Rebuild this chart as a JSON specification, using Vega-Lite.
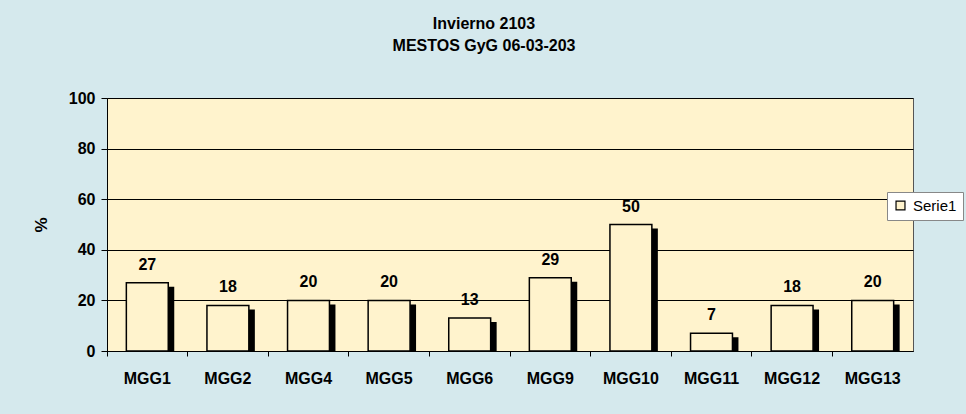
{
  "$schema": "https://vega.github.io/schema/vega-lite/v6.json",
  "width": 806,
  "height": 253,
  "autosize": {"type": "none"},
  "padding": {"left": 107, "top": 98, "right": 53, "bottom": 63},
  "background": "#D5E9ED",
  "config": {
    "font": "Liberation Sans",
    "view": {"fill": "#FFF3CD", "stroke": "#555555", "strokeWidth": 1}
  },
  "title": {
    "text": ["Invierno 2103", "MESTOS GyG 06-03-203"],
    "fontSize": 16,
    "fontWeight": "bold",
    "color": "#000000",
    "lineHeight": 22,
    "anchor": "middle",
    "frame": "group",
    "dx": -26,
    "offset": 36
  },
  "data": {
    "values": [
      {"cat": "MGG1", "v": 27, "serie": "Serie1"},
      {"cat": "MGG2", "v": 18, "serie": "Serie1"},
      {"cat": "MGG4", "v": 20, "serie": "Serie1"},
      {"cat": "MGG5", "v": 20, "serie": "Serie1"},
      {"cat": "MGG6", "v": 13, "serie": "Serie1"},
      {"cat": "MGG9", "v": 29, "serie": "Serie1"},
      {"cat": "MGG10", "v": 50, "serie": "Serie1"},
      {"cat": "MGG11", "v": 7, "serie": "Serie1"},
      {"cat": "MGG12", "v": 18, "serie": "Serie1"},
      {"cat": "MGG13", "v": 20, "serie": "Serie1"}
    ]
  },
  "encoding": {
    "x": {
      "field": "cat", "type": "nominal", "sort": null,
      "scale": {"paddingInner": 0.48, "paddingOuter": 0.24},
      "axis": {
        "title": null, "labelAngle": 0, "labelFontSize": 16, "labelFontWeight": "bold",
        "labelColor": "#000000", "labelPadding": 14, "domainColor": "#000000",
        "tickColor": "#000000", "tickSize": 5, "bandPosition": -0.4615
      }
    },
    "y": {
      "field": "v", "type": "quantitative",
      "scale": {"domain": [0, 100], "nice": false},
      "axis": {
        "title": "%", "titleFontSize": 17, "titleFontWeight": "bold", "titleColor": "#000000",
        "titlePadding": 18, "values": [0, 20, 40, 60, 80, 100],
        "labelFontSize": 16, "labelFontWeight": "bold", "labelColor": "#000000",
        "labelPadding": 6, "domainColor": "#000000", "tickColor": "#000000", "tickSize": 6,
        "gridColor": "#000000", "gridOpacity": 1, "gridWidth": 1
      }
    }
  },
  "layer": [
    {
      "mark": {"type": "bar", "fill": "#000000", "xOffset": 6, "yOffset": 4, "clip": true},
      "encoding": {}
    },
    {
      "mark": {"type": "bar", "stroke": "#000000", "strokeWidth": 1.5},
      "encoding": {
        "fill": {
          "field": "serie", "type": "nominal",
          "scale": {"range": ["#FFF3CD"]},
          "legend": {
            "title": null, "orient": "none", "legendX": 780, "legendY": 94,
            "fillColor": "#FFFFFF", "strokeColor": "#888888", "padding": 6,
            "labelFontSize": 15, "labelColor": "#000000", "symbolType": "square",
            "symbolSize": 80, "symbolStrokeColor": "#000000", "symbolStrokeWidth": 1.2,
            "symbolFillColor": "#FFFFFF", "labelOffset": 5
          }
        }
      }
    },
    {
      "mark": {"type": "text", "dy": -18, "fontSize": 16, "fontWeight": "bold", "color": "#000000"},
      "encoding": {"text": {"field": "v", "type": "quantitative"}}
    }
  ]
}
